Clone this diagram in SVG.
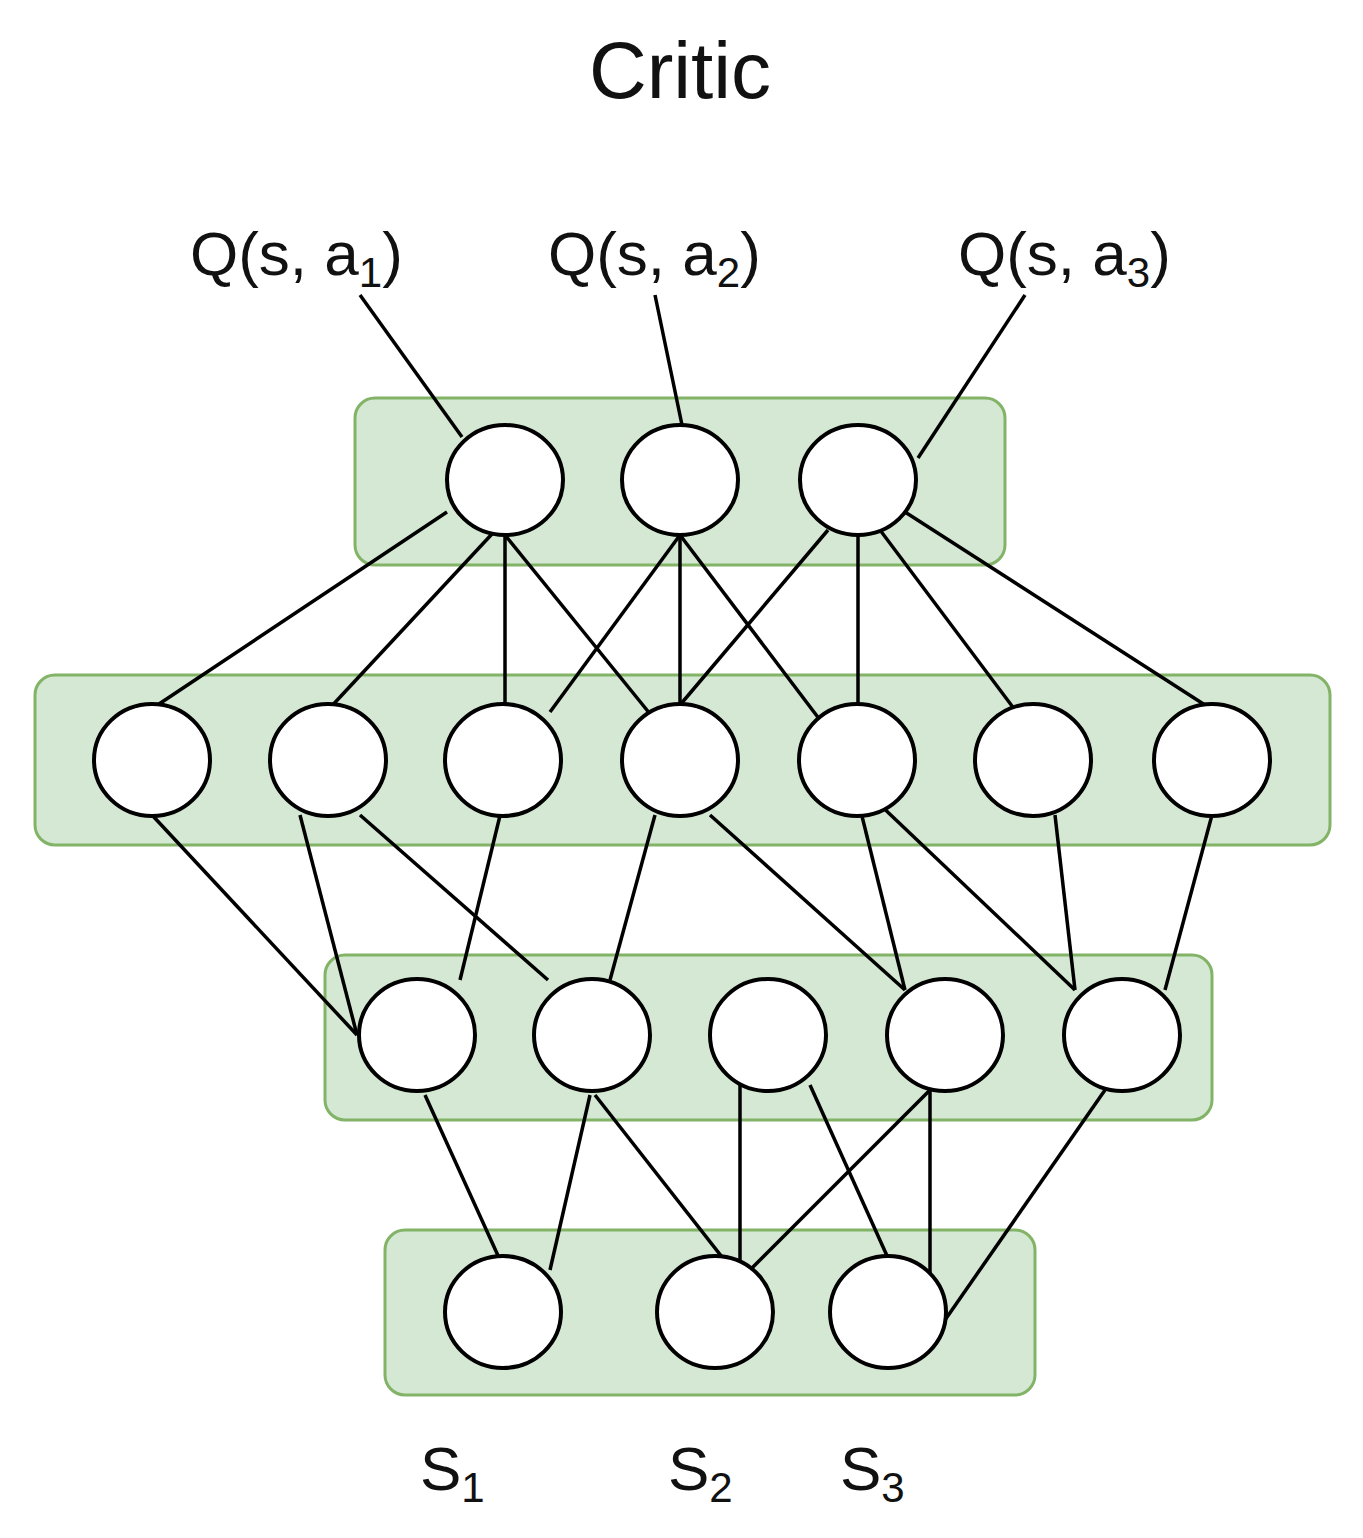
<svg xmlns="http://www.w3.org/2000/svg" width="1363" height="1538" viewBox="0 0 1363 1538">
<style>
.box{fill:#d5e8d4;stroke:#82b366;stroke-width:3}
.n{fill:#fff;stroke:#000;stroke-width:4}
.e{stroke:#000;stroke-width:3.5;fill:none}
text{font-family:"Liberation Sans",Arial,sans-serif;fill:#111}
.lbl{font-size:62px}
</style>
<rect width="1363" height="1538" fill="#fff"/>
<text x="680" y="98" font-size="80" text-anchor="middle">Critic</text>
<g id="boxes">
<rect class="box" x="355" y="398" width="650" height="167" rx="20"/>
<rect class="box" x="35" y="675" width="1295" height="170" rx="20"/>
<rect class="box" x="325" y="955" width="887" height="165" rx="20"/>
<rect class="box" x="385" y="1230" width="650" height="165" rx="20"/>
</g>
<g id="connectors" class="e">
<line x1="360" y1="295" x2="462" y2="437"/>
<line x1="655" y1="295" x2="682" y2="425"/>
<line x1="1025" y1="295" x2="918" y2="458"/>
<line x1="447" y1="512" x2="150" y2="710"/>
<line x1="505" y1="520" x2="328" y2="710"/>
<line x1="505" y1="535" x2="505" y2="710"/>
<line x1="505" y1="535" x2="655" y2="720"/>
<line x1="680" y1="535" x2="550" y2="712"/>
<line x1="680" y1="535" x2="680" y2="710"/>
<line x1="680" y1="535" x2="820" y2="720"/>
<line x1="828" y1="530" x2="680" y2="705"/>
<line x1="858" y1="535" x2="858" y2="710"/>
<line x1="880" y1="530" x2="1015" y2="710"/>
<line x1="905" y1="512" x2="1205" y2="705"/>
<line x1="152" y1="815" x2="357" y2="1035"/>
<line x1="300" y1="815" x2="357" y2="1035"/>
<line x1="360" y1="815" x2="548" y2="980"/>
<line x1="505" y1="795" x2="460" y2="980"/>
<line x1="655" y1="815" x2="610" y2="980"/>
<line x1="710" y1="815" x2="905" y2="990"/>
<line x1="858" y1="800" x2="905" y2="990"/>
<line x1="875" y1="800" x2="1075" y2="990"/>
<line x1="1055" y1="815" x2="1075" y2="990"/>
<line x1="1212" y1="815" x2="1165" y2="990"/>
<line x1="425" y1="1095" x2="500" y2="1260"/>
<line x1="590" y1="1095" x2="550" y2="1270"/>
<line x1="595" y1="1095" x2="740" y2="1280"/>
<line x1="740" y1="1085" x2="740" y2="1280"/>
<line x1="810" y1="1085" x2="888" y2="1258"/>
<line x1="930" y1="1090" x2="740" y2="1280"/>
<line x1="930" y1="1090" x2="930" y2="1285"/>
<line x1="1105" y1="1090" x2="945" y2="1320"/>
</g>
<g id="top"><ellipse class="n" cx="505" cy="480" rx="58" ry="55"/><ellipse class="n" cx="680" cy="480" rx="58" ry="55"/><ellipse class="n" cx="858" cy="480" rx="58" ry="55"/></g>
<g id="hidden1">
<ellipse class="n" cx="152" cy="760" rx="58" ry="56"/><ellipse class="n" cx="328" cy="760" rx="58" ry="56"/><ellipse class="n" cx="503" cy="760" rx="58" ry="56"/><ellipse class="n" cx="680" cy="760" rx="58" ry="56"/><ellipse class="n" cx="857" cy="760" rx="58" ry="56"/><ellipse class="n" cx="1033" cy="760" rx="58" ry="56"/><ellipse class="n" cx="1212" cy="760" rx="58" ry="56"/>
</g>
<g id="hidden2">
<ellipse class="n" cx="417" cy="1035" rx="58" ry="56"/><ellipse class="n" cx="592" cy="1035" rx="58" ry="56"/><ellipse class="n" cx="768" cy="1035" rx="58" ry="56"/><ellipse class="n" cx="945" cy="1035" rx="58" ry="56"/><ellipse class="n" cx="1122" cy="1035" rx="58" ry="56"/>
</g>
<g id="input"><ellipse class="n" cx="503" cy="1312" rx="58" ry="56"/><ellipse class="n" cx="715" cy="1312" rx="58" ry="56"/><ellipse class="n" cx="888" cy="1312" rx="58" ry="56"/></g>
<g id="labels" class="lbl">
<text x="190" y="275">Q(s, a<tspan font-size="42" dy="12">1</tspan><tspan dy="-12">)</tspan></text>
<text x="548" y="275">Q(s, a<tspan font-size="42" dy="12">2</tspan><tspan dy="-12">)</tspan></text>
<text x="958" y="275">Q(s, a<tspan font-size="42" dy="12">3</tspan><tspan dy="-12">)</tspan></text>
<text x="420" y="1490">S<tspan font-size="42" dy="12">1</tspan></text>
<text x="668" y="1490">S<tspan font-size="42" dy="12">2</tspan></text>
<text x="840" y="1490">S<tspan font-size="42" dy="12">3</tspan></text>
</g>
</svg>
